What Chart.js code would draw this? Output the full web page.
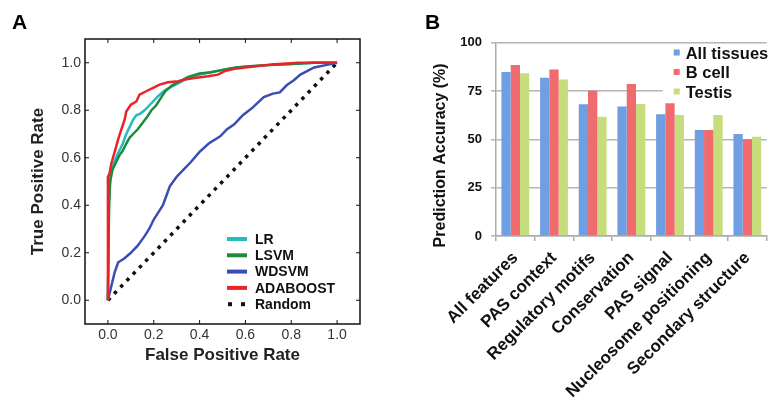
<!DOCTYPE html>
<html>
<head>
<meta charset="utf-8">
<script src="https://cdn.jsdelivr.net/npm/chart.js@4.4.0/dist/chart.umd.min.js"></script>
<style>
  html, body { margin: 0; padding: 0; background: #fff; }
  #wrap { position: relative; width: 770px; height: 402px; overflow: hidden; }
  #rocChart { position: absolute; left: 0; top: 0; }
  #accChart { position: absolute; left: 395px; top: 0; }
</style>
</head>
<body>
<div id="wrap">
  <canvas id="rocChart" width="390" height="402"></canvas>
  <canvas id="accChart" width="375" height="402"></canvas>
</div>
<script>
// Panel A - ROC curves (false positive rate / true positive rate)
const rocTicks = [0, 0.2, 0.4, 0.6, 0.8, 1.0];

const lrFpr = [0, 0.005, 0.01, 0.02, 0.035, 0.05, 0.065, 0.08, 0.095, 0.11, 0.125, 0.14, 0.16, 0.18, 0.20, 0.22, 0.25, 0.28, 0.31, 0.35, 0.40, 0.45, 0.50, 0.56, 0.62, 0.70, 0.80, 0.90, 1.0];
const lrTpr = [0, 0.42, 0.52, 0.56, 0.60, 0.63, 0.66, 0.70, 0.73, 0.76, 0.78, 0.785, 0.80, 0.82, 0.84, 0.86, 0.885, 0.90, 0.915, 0.935, 0.95, 0.96, 0.97, 0.98, 0.985, 0.99, 0.995, 1.0, 1.0];

const lsvmFpr = [0, 0.005, 0.01, 0.02, 0.035, 0.05, 0.065, 0.08, 0.095, 0.11, 0.13, 0.15, 0.17, 0.19, 0.21, 0.23, 0.25, 0.28, 0.31, 0.35, 0.40, 0.45, 0.50, 0.56, 0.62, 0.70, 0.80, 0.90, 1.0];
const lsvmTpr = [0, 0.40, 0.50, 0.55, 0.58, 0.61, 0.63, 0.66, 0.685, 0.70, 0.72, 0.745, 0.77, 0.80, 0.82, 0.85, 0.88, 0.905, 0.92, 0.94, 0.955, 0.96, 0.97, 0.98, 0.985, 0.99, 0.995, 1.0, 1.0];

const wdsvmFpr = [0, 0.01, 0.02, 0.03, 0.045, 0.07, 0.1, 0.13, 0.16, 0.18, 0.2, 0.22, 0.24, 0.255, 0.27, 0.3, 0.33, 0.36, 0.4, 0.44, 0.49, 0.52, 0.55, 0.59, 0.63, 0.68, 0.72, 0.75, 0.78, 0.81, 0.84, 0.9, 0.95, 1.0];
const wdsvmTpr = [0, 0.04, 0.08, 0.12, 0.16, 0.175, 0.2, 0.23, 0.27, 0.3, 0.34, 0.37, 0.4, 0.44, 0.48, 0.52, 0.55, 0.58, 0.625, 0.66, 0.69, 0.72, 0.74, 0.78, 0.81, 0.855, 0.87, 0.875, 0.905, 0.925, 0.95, 0.98, 0.99, 1.0];

const adaFpr = [0, 0, 0.007, 0.015, 0.022, 0.036, 0.044, 0.058, 0.073, 0.08, 0.1, 0.124, 0.138, 0.167, 0.197, 0.226, 0.262, 0.306, 0.335, 0.378, 0.437, 0.48, 0.51, 0.553, 0.626, 0.713, 0.83, 1.0];
const adaTpr = [0, 0.52, 0.534, 0.576, 0.6, 0.647, 0.675, 0.717, 0.76, 0.795, 0.823, 0.837, 0.866, 0.88, 0.894, 0.908, 0.918, 0.922, 0.929, 0.936, 0.943, 0.95, 0.965, 0.975, 0.983, 0.993, 1.0, 1.0];

const randomFpr = [0, 1];
const randomTpr = [0, 1];

// Panel B - prediction accuracy per feature set
const featureLabels = ['All features', 'PAS context', 'Regulatory motifs', 'Conservation', 'PAS signal', 'Nucleosome positioning', 'Secondary structure'];
const accTicks = [0, 25, 50, 75, 100];
const allTissues = [84.8, 81.9, 68.1, 67.0, 63.0, 54.9, 52.8];
const bCell = [88.5, 86.2, 75.2, 78.6, 68.7, 54.9, 50.0];
const testis = [84.2, 81.0, 61.7, 68.3, 62.6, 62.6, 51.4];

const FONT = "'Liberation Sans', Arial, Helvetica, sans-serif";
Chart.defaults.font.family = FONT;

function toPoints(xs, ys) {
    return xs.map((x, i) => ({ x: x, y: ys[i] }));
}

// box, inward ticks, legend and panel letter for the ROC panel
const rocFrame = {
    id: 'rocFrame',
    afterDraw(chart) {
        const ctx = chart.ctx;
        const a = chart.chartArea;
        const xs = chart.scales.x, ys = chart.scales.y;
        ctx.save();
        ctx.strokeStyle = '#111';
        ctx.lineWidth = 1.5;
        ctx.strokeRect(a.left, a.top, a.right - a.left, a.bottom - a.top);
        ctx.lineWidth = 1;
        ctx.beginPath();
        rocTicks.forEach(v => {
            const px = xs.getPixelForValue(v);
            ctx.moveTo(px, a.bottom); ctx.lineTo(px, a.bottom - 4);
            ctx.moveTo(px, a.top); ctx.lineTo(px, a.top + 4);
            const py = ys.getPixelForValue(v);
            ctx.moveTo(a.left, py); ctx.lineTo(a.left + 4, py);
            ctx.moveTo(a.right, py); ctx.lineTo(a.right - 4, py);
        });
        ctx.stroke();

        const hx = a.right - 133, tx = a.right - 105;
        let ly = a.bottom - 85;
        ctx.font = 'bold 14px ' + FONT;
        ctx.textBaseline = 'middle';
        chart.data.datasets.forEach(ds => {
            if (ds.borderDash) {
                ctx.fillStyle = ds.borderColor;
                ctx.fillRect(hx + 1, ly - 2, 4, 4);
                ctx.fillRect(hx + 14, ly - 2, 4, 4);
            } else {
                ctx.strokeStyle = ds.borderColor;
                ctx.lineWidth = 4;
                ctx.beginPath();
                ctx.moveTo(hx, ly);
                ctx.lineTo(hx + 20, ly);
                ctx.stroke();
            }
            ctx.fillStyle = '#111';
            ctx.fillText(ds.label, tx, ly + 1);
            ly += 16.3;
        });

        ctx.font = 'bold 21px ' + FONT;
        ctx.textBaseline = 'alphabetic';
        ctx.fillStyle = '#000';
        ctx.fillText('A', 12, 28.5);
        ctx.restore();
    }
};

new Chart(document.getElementById('rocChart'), {
    type: 'scatter',
    data: {
        datasets: [
            { label: 'LR', data: toPoints(lrFpr, lrTpr), borderColor: '#26bcbc', order: 2 },
            { label: 'LSVM', data: toPoints(lsvmFpr, lsvmTpr), borderColor: '#1d8a3e', order: 1 },
            { label: 'WDSVM', data: toPoints(wdsvmFpr, wdsvmTpr), borderColor: '#3a4db0', order: 3 },
            { label: 'ADABOOST', data: toPoints(adaFpr, adaTpr), borderColor: '#e8242a', order: 0 },
            { label: 'Random', data: toPoints(randomFpr, randomTpr), borderColor: '#111', borderDash: [3.5, 5.5], borderWidth: 3.5, order: 4 }
        ]
    },
    options: {
        responsive: false,
        animation: false,
        devicePixelRatio: 1,
        layout: { padding: { left: 28, top: 39, right: 30, bottom: 36 } },
        datasets: { scatter: { showLine: true, pointRadius: 0, borderWidth: 2.5, tension: 0, fill: false } },
        plugins: { legend: { display: false }, tooltip: { enabled: false } },
        scales: {
            x: {
                type: 'linear', min: -0.1, max: 1.1,
                afterBuildTicks: s => { s.ticks = rocTicks.map(v => ({ value: v })); },
                afterFit: s => { s.height = 42; },
                grid: { display: false, drawTicks: false },
                border: { display: false },
                ticks: { color: '#333', font: { size: 14 }, padding: 3, maxRotation: 0, callback: v => v.toFixed(1) },
                title: { display: true, text: 'False Positive Rate', color: '#222', font: { size: 17, weight: 'bold' }, padding: 0 }
            },
            y: {
                type: 'linear', min: -0.1, max: 1.1,
                afterBuildTicks: s => { s.ticks = rocTicks.map(v => ({ value: v })); },
                afterFit: s => { s.width = 57; },
                grid: { display: false, drawTicks: false },
                border: { display: false },
                ticks: { color: '#333', font: { size: 14 }, padding: 4, callback: v => v.toFixed(1) },
                title: { display: true, text: 'True Positive Rate', color: '#222', font: { size: 17, weight: 'bold' }, padding: 0 }
            }
        }
    },
    plugins: [rocFrame]
});

// legend box, y title and panel letter for the bar panel
const accExtras = {
    id: 'accExtras',
    afterDraw(chart) {
        const ctx = chart.ctx;
        const a = chart.chartArea;
        ctx.save();
        const lx = a.right - 93;
        ctx.fillStyle = '#fff';
        ctx.fillRect(lx - 11, a.top + 2.5, 120, 55);
        ctx.font = 'bold 16.5px ' + FONT;
        ctx.textBaseline = 'middle';
        chart.data.datasets.forEach((ds, i) => {
            const cy = a.top + 11.3 + i * 19.5;
            ctx.fillStyle = ds.backgroundColor;
            ctx.fillRect(lx, cy - 4.5, 6, 6);
            ctx.fillStyle = '#111';
            ctx.fillText(ds.label, lx + 12, cy);
        });

        ctx.font = 'bold 21px ' + FONT;
        ctx.textBaseline = 'alphabetic';
        ctx.fillStyle = '#000';
        ctx.fillText('B', 30, 28.5);

        ctx.translate(46, (a.top + a.bottom) / 2 + 16);
        ctx.rotate(-Math.PI / 2);
        ctx.textAlign = 'center';
        ctx.textBaseline = 'middle';
        ctx.font = 'bold 16px ' + FONT;
        ctx.fillStyle = '#111';
        ctx.fillText('Prediction Accuracy (%)', 0, 0);
        ctx.restore();
    }
};

new Chart(document.getElementById('accChart'), {
    type: 'bar',
    data: {
        labels: featureLabels,
        datasets: [
            { label: 'All tissues', data: allTissues, backgroundColor: '#6f9fe2' },
            { label: 'B cell', data: bCell, backgroundColor: '#ef6b6d' },
            { label: 'Testis', data: testis, backgroundColor: '#c6dd7d' }
        ]
    },
    options: {
        responsive: false,
        animation: false,
        devicePixelRatio: 1,
        layout: { padding: { left: 0, top: 42.7, right: 3.3, bottom: 0 } },
        datasets: { bar: { categoryPercentage: 0.72, barPercentage: 1.0 } },
        plugins: { legend: { display: false }, tooltip: { enabled: false } },
        scales: {
            x: {
                afterFit: s => { s.height = 166; },
                grid: { offset: true, drawOnChartArea: false, tickLength: 5, color: '#aaa', lineWidth: 1.5 },
                border: { color: '#aaa', width: 1.5 },
                ticks: { autoSkip: false, minRotation: 45, maxRotation: 45, color: '#111', font: { size: 17, weight: 'bold' }, padding: 7 }
            },
            y: {
                min: 0, max: 100,
                afterBuildTicks: s => { s.ticks = accTicks.map(v => ({ value: v })); },
                afterFit: s => { s.width = 101; },
                grid: { color: '#b4b4b4', lineWidth: 1.5, tickLength: 5 },
                border: { color: '#aaa', width: 1.5 },
                ticks: { color: '#111', font: { size: 13, weight: 'bold' }, padding: 9 }
            }
        }
    },
    plugins: [accExtras]
});
</script>
</body>
</html>
